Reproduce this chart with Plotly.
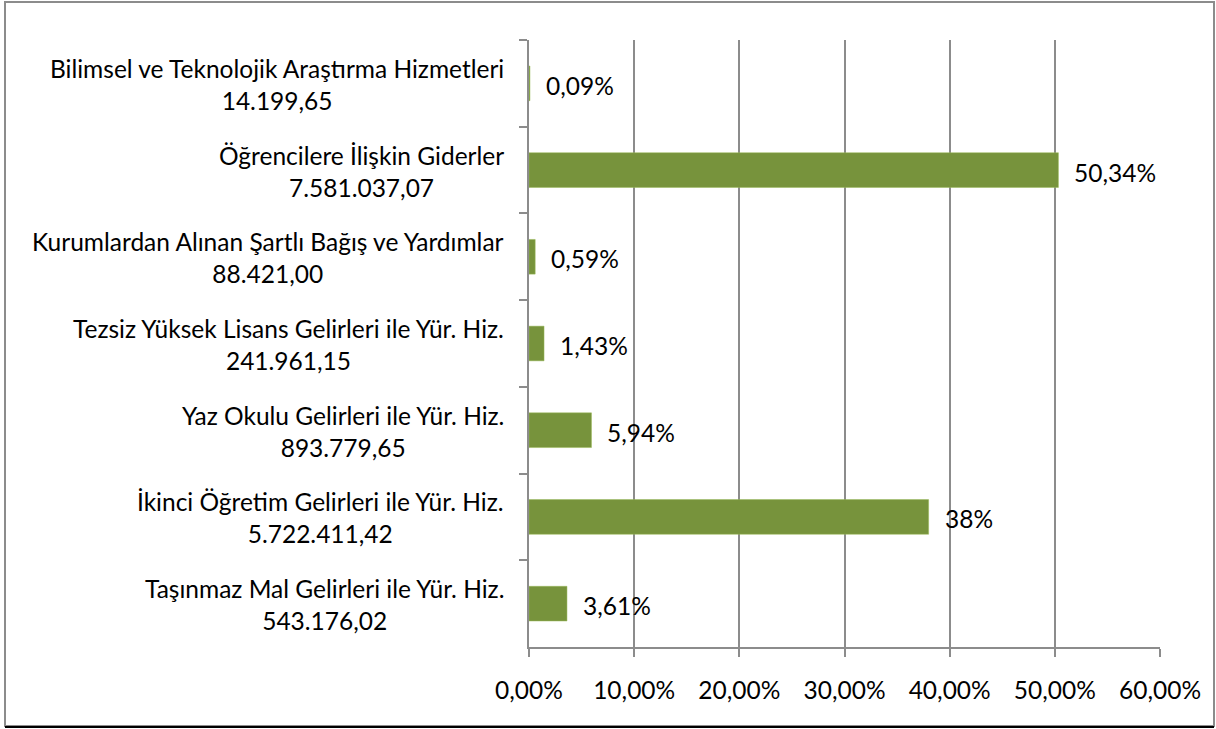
import plotly.graph_objects as go

categories = [
    "Bilimsel ve Teknolojik Araştırma Hizmetleri",
    "Öğrencilere İlişkin Giderler",
    "Kurumlardan Alınan Şartlı Bağış ve Yardımlar",
    "Tezsiz Yüksek Lisans Gelirleri ile Yür. Hiz.",
    "Yaz Okulu Gelirleri ile Yür. Hiz.",
    "İkinci Öğretim Gelirleri ile Yür. Hiz.",
    "Taşınmaz Mal Gelirleri ile Yür. Hiz.",
]
amounts = [
    "14.199,65",
    "7.581.037,07",
    "88.421,00",
    "241.961,15",
    "893.779,65",
    "5.722.411,42",
    "543.176,02",
]
shares = [0.0009, 0.5034, 0.0059, 0.0143, 0.0594, 0.38, 0.0361]
share_labels = ["0,09%", "50,34%", "0,59%", "1,43%", "5,94%", "38%", "3,61%"]

FONT = "Lato"
FS = 24.5
BAR = "#77933C"
GRID = "#8C8C8C"

fig = go.Figure()
fig.add_trace(go.Bar(
    x=shares, y=categories, orientation="h",
    marker=dict(color=BAR, line=dict(color="#9BBB59", width=0.5)),
    width=0.4, hoverinfo="skip",
))

annotations = []
for cat, amt in zip(categories, amounts):
    annotations.append(dict(
        x=0, xref="paper", y=cat, yref="y", text=f"{cat}<br>{amt}",
        xanchor="right", yanchor="middle", align="center", xshift=-23, yshift=-1,
        showarrow=False, font=dict(family=FONT, size=FS, color="#000000"),
    ))
for cat, v, lab in zip(categories, shares, share_labels):
    annotations.append(dict(
        x=v, xref="x", y=cat, yref="y", text=lab,
        xanchor="left", yanchor="middle", xshift=14, yshift=-2,
        showarrow=False, font=dict(family=FONT, size=FS, color="#000000"),
    ))

fig.update_layout(
    width=1216, height=729,
    margin=dict(l=529, r=56, t=40, b=82),
    paper_bgcolor="white", plot_bgcolor="white",
    separators=",.",
    showlegend=False,
    font=dict(family=FONT, size=FS, color="#000000"),
    annotations=annotations,
    shapes=[
        dict(type="rect", xref="paper", yref="paper",
             x0=(5 - 529) / 631, x1=(1214 - 529) / 631,
             y0=(647 - 726) / 607, y1=(647 - 2) / 607,
             line=dict(color="#8C8C8C", width=2), layer="below"),
        dict(type="line", xref="paper", yref="paper",
             x0=(5 - 529) / 631, x1=(1214 - 529) / 631,
             y0=(647 - 727) / 607, y1=(647 - 727) / 607,
             line=dict(color="#000000", width=2)),
    ],
)
fig.update_xaxes(
    range=[0, 0.6], dtick=0.1, tickformat=".2%",
    showgrid=True, gridcolor=GRID, gridwidth=1.5,
    showline=True, linecolor=GRID, linewidth=2,
    ticks="outside", ticklen=8, tickcolor=GRID, tickwidth=2,
    ticklabelstandoff=13, zeroline=False,
    tickfont=dict(family=FONT, size=FS, color="#000000"),
)
fig.update_yaxes(
    categoryorder="array", categoryarray=categories, autorange="reversed",
    showticklabels=False, showgrid=False,
    showline=True, linecolor=GRID, linewidth=2,
    ticks="outside", tickson="boundaries", ticklen=8, tickcolor=GRID, tickwidth=2,
)

fig.write_html("out.html", config={"displayModeBar": False},
               post_script="document.body.style.margin='0';")
